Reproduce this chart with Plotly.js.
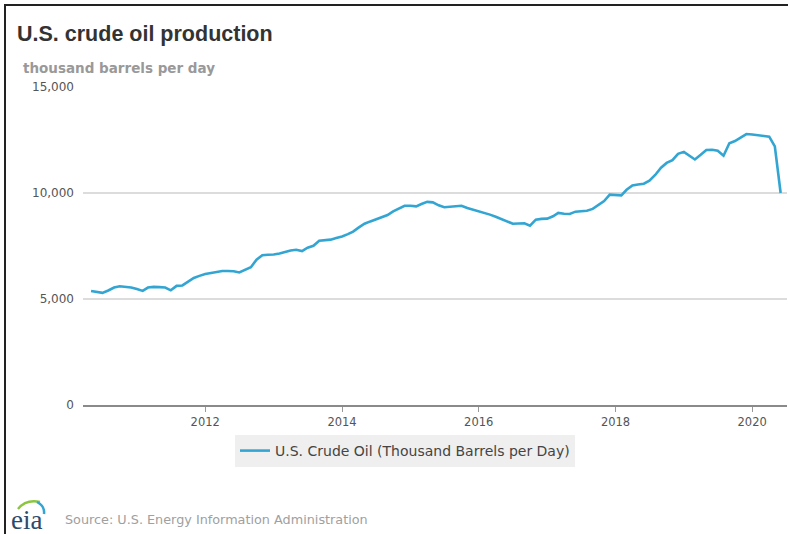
<!DOCTYPE html>
<html>
<head>
<meta charset="utf-8">
<script src="https://cdn.plot.ly/plotly-3.0.1.min.js"></script>
<style>
html,body{margin:0;padding:0;background:#fff;}
#wrap{position:relative;width:788px;height:534px;overflow:hidden;}
#frameTop{position:absolute;left:4px;top:4px;width:784px;height:2px;background:#222;z-index:5;}
#frameLeft{position:absolute;left:4px;top:4px;width:2px;height:530px;background:#222;z-index:5;}
#chart{position:absolute;left:0;top:0;width:788px;height:534px;}
</style>
</head>
<body>
<div id="wrap">
<div id="chart"></div>
<div id="frameTop"></div>
<div id="frameLeft"></div>
</div>
<script>
// Monthly U.S. crude oil production, thousand barrels per day
const startMonth = '2010-05';
const production = [
  5380, 5340, 5290, 5400, 5540, 5600, 5570, 5540, 5470, 5380,
  5540, 5570, 5560, 5540, 5410, 5620, 5640, 5800, 5990, 6090,
  6180, 6230, 6280, 6320, 6320, 6310, 6250, 6370, 6500, 6850,
  7060, 7090, 7100, 7150, 7220, 7290, 7320, 7260, 7420, 7510,
  7750, 7780, 7800, 7880, 7950, 8060, 8180, 8380, 8550, 8660,
  8760, 8850, 8960, 9130, 9280, 9400, 9400, 9370, 9480, 9580,
  9560, 9420, 9330, 9360, 9390, 9400, 9290, 9220, 9150, 9080,
  8980, 8880, 8770, 8660, 8550, 8560, 8570, 8460, 8740, 8780,
  8790, 8900, 9060, 9020, 9010, 9120, 9130, 9160, 9250, 9420,
  9620, 9920, 9900, 9890, 10150, 10360, 10400, 10440, 10580, 10850,
  11190, 11420, 11550, 11850, 11940, 11760, 11580, 11800, 12030, 12040,
  11990, 11760, 12350, 12450, 12600, 12780, 12760, 12730, 12700, 12660,
  12200, 10000
];
const yTicks = [0, 5000, 10000, 15000];
const xTickYears = ['2012', '2014', '2016', '2018', '2020'];
const seriesName = 'U.S. Crude Oil (Thousand Barrels per Day)';
const chartTitle = 'U.S. crude oil production';
const unitLabel = 'thousand barrels per day';
const sourceText = 'Source: U.S. Energy Information Administration';

function monthDates(start, n) {
  const [y0, m0] = start.split('-').map(Number);
  const out = [];
  for (let i = 0; i < n; i++) {
    const t = (m0 - 1) + i;
    const y = y0 + Math.floor(t / 12);
    const m = (t % 12) + 1;
    out.push(y + '-' + String(m).padStart(2, '0') + '-01');
  }
  return out;
}
const dates = monthDates(startMonth, production.length);

// plot area geometry (pixels)
const W = 788, H = 534;
const L = 83, R = 787, T = 87, B = 405;
const pw = R - L, ph = B - T;
const px = x => (x - L) / pw;
const py = y => (B - y) / ph;

const trace = {
  x: dates, y: production, type: 'scatter', mode: 'lines',
  name: seriesName,
  line: {color: '#33a5d3', width: 2.6},
  hoverinfo: 'x+y'
};

const layout = {
  width: W, height: H,
  margin: {l: L, r: W - R, t: T, b: H - B, pad: 0},
  paper_bgcolor: '#ffffff', plot_bgcolor: '#ffffff',
  font: {family: 'DejaVu Sans, Arial, sans-serif', color: '#555'},
  title: {
    text: '<b>' + chartTitle + '</b>',
    font: {family: 'Liberation Sans, Arial, sans-serif', size: 21.5, color: '#333'},
    x: 17 / W, xref: 'container', xanchor: 'left',
    y: 1 - 33 / H, yref: 'container', yanchor: 'middle'
  },
  xaxis: {
    type: 'date',
    range: ['2010-03-19', '2020-07-05'],
    tickvals: xTickYears.map(y => y + '-01-01'),
    ticktext: xTickYears,
    ticks: 'outside', ticklen: 5, tickcolor: '#999', tickwidth: 1,
    tickfont: {size: 11.5, color: '#555', family: 'DejaVu Sans, sans-serif'},
    showgrid: false, showline: true, linecolor: '#8a8a8a', linewidth: 2,
    zeroline: false, fixedrange: true
  },
  yaxis: {
    range: [0, 15000],
    tickvals: yTicks,
    tickformat: ',d',
    ticks: '', ticklabelstandoff: 8,
    tickfont: {size: 12, color: '#555', family: 'DejaVu Sans, sans-serif'},
    showgrid: true, gridcolor: '#dcdcdc', gridwidth: 1.5,
    zeroline: false, showline: false, fixedrange: true
  },
  showlegend: true,
  legend: {
    orientation: 'h',
    x: px(405), xanchor: 'center',
    y: py(451), yanchor: 'middle',
    bgcolor: '#efefef', borderwidth: 0,
    font: {size: 14, color: '#444', family: 'DejaVu Sans, sans-serif'},
    itemwidth: 30
  },
  annotations: [
    {
      text: '<b>' + unitLabel + '</b>', showarrow: false,
      xref: 'paper', yref: 'paper', x: px(21), y: py(68),
      xanchor: 'left', yanchor: 'middle',
      font: {family: 'DejaVu Sans, sans-serif', size: 13.5, color: '#999'}
    },
    {
      text: 'eia', showarrow: false,
      xref: 'paper', yref: 'paper', x: px(9), y: py(520),
      xanchor: 'left', yanchor: 'middle',
      font: {family: 'Liberation Serif, DejaVu Serif, serif', size: 27, color: '#2c4a6b'}
    },
    {
      text: sourceText, showarrow: false,
      xref: 'paper', yref: 'paper', x: px(63), y: py(519),
      xanchor: 'left', yanchor: 'middle',
      font: {family: 'DejaVu Sans, sans-serif', size: 12.8, color: '#a0a0a0'}
    }
  ],
  shapes: [
    {type: 'path', xref: 'paper', yref: 'paper',
     path: 'M ' + px(18) + ',' + py(509) + ' Q ' + px(26) + ',' + py(499) + ' ' + px(40) + ',' + py(502),
     line: {color: '#8cc63f', width: 2.5}},
    {type: 'path', xref: 'paper', yref: 'paper',
     path: 'M ' + px(37) + ',' + py(502) + ' Q ' + px(45) + ',' + py(506) + ' ' + px(44) + ',' + py(514),
     line: {color: '#33a5d3', width: 2.5}}
  ]
};

Plotly.newPlot('chart', [trace], layout, {displayModeBar: false, staticPlot: true});
</script>
</body>
</html>
